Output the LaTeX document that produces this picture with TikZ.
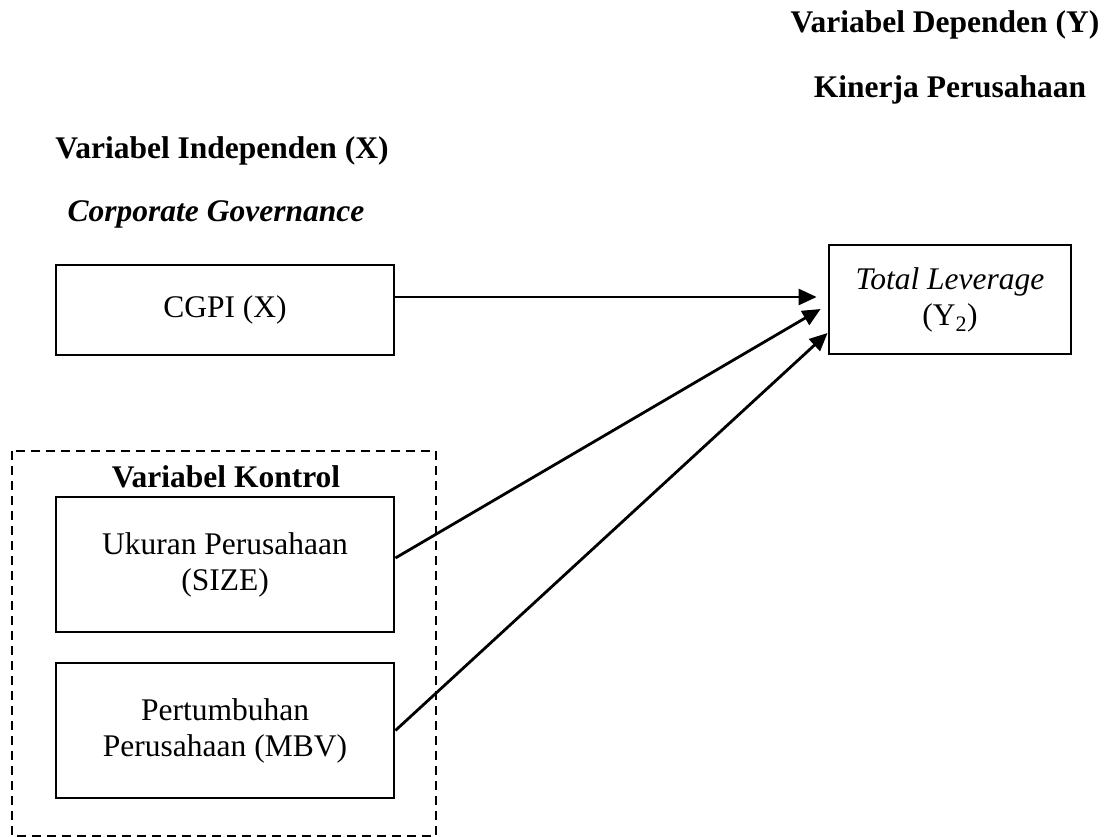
\documentclass[tikz,border=0pt]{standalone}
\usepackage{fontspec}
\setmainfont{Liberation Serif}
\usetikzlibrary{arrows.meta}
\begin{document}
\begin{tikzpicture}[x=1pt,y=-1pt,
  every node/.style={font=\fontsize{31.5}{36}\selectfont},
  box/.style={draw,line width=2.8pt,rectangle,inner sep=0pt,align=center,minimum width=338pt},
  title/.style={anchor=base,font=\fontsize{31.5}{36}\selectfont\bfseries},
  arr/.style={line width=2.8pt,-{Triangle[length=18pt,width=16pt]}},
  dashbox/.style={draw,line width=2pt,dash pattern=on 9pt off 6pt}]
\useasboundingbox (0,0) rectangle (1108,837);
% titles
\node[title] (tdep) at (945,33) {Variabel Dependen (Y)};
\node[title] (tkin) at (950,98) {Kinerja Perusahaan};
\node[title] (tind) at (222,159) {Variabel Independen (X)};
\node[title,font=\fontsize{31.5}{36}\selectfont\bfseries\itshape] (tcg) at (216,222) {Corporate Governance};
% control group
\draw[dashbox] (12,451) rectangle (436,836);
\node[title] (tkon) at (226,487) {Variabel Kontrol};
% boxes
\node[box,minimum height=90pt] (cgpi) at (225,310) {CGPI (X)};
\node[box,minimum width=242pt,minimum height=109pt] (y2) at (950,299.5) {\textit{Total Leverage}\\(Y\textsubscript{2})};
\node[box,minimum height=135pt] (size) at (225,564.5) {Ukuran Perusahaan\\(SIZE)};
\node[box,minimum height=135pt] (mbv) at (225,730.5) {Pertumbuhan\\Perusahaan (MBV)};
% connectors
\coordinate (s1) at ([yshift=13pt]cgpi.east);
\coordinate (e1) at ([xshift=-11pt]s1 -| y2.west);
\coordinate (s2) at ([yshift=6.5pt]size.east);
\coordinate (e2) at ([xshift=-7pt,yshift=-9.5pt]y2.west);
\coordinate (e3) at ([yshift=-33.5pt]y2.west);
\draw[arr] (s1) -- (e1);
\draw[arr] (s2) -- (e2);
\draw[arr] (mbv.east) -- (e3);
\end{tikzpicture}
\end{document}
